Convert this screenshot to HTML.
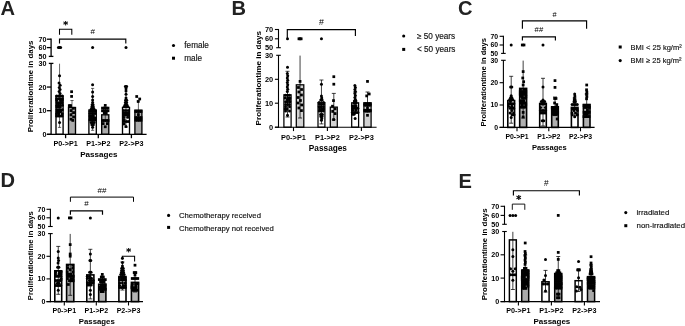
<!DOCTYPE html>
<html><head><meta charset="utf-8"><title>Figure</title>
<style>html,body{margin:0;padding:0;background:#fff}svg{display:block;font-family:"Liberation Sans", Arial, sans-serif}</style>
</head><body>
<svg width="685" height="326" viewBox="0 0 685 326">
<rect width="685" height="326" fill="#fff"/>
<text x="0.4" y="14.6" font-size="20.1" font-weight="bold" fill="#222">A</text>
<rect x="56.00" y="96.00" width="7.10" height="38.30" fill="#fff" stroke="#000" stroke-width="1.35"/>
<rect x="68.50" y="107.50" width="7.00" height="26.80" fill="#ababab" stroke="#000" stroke-width="1.35"/>
<rect x="88.90" y="110.00" width="7.40" height="24.30" fill="#fff" stroke="#000" stroke-width="1.35"/>
<rect x="101.70" y="114.80" width="7.10" height="19.50" fill="#ababab" stroke="#000" stroke-width="1.35"/>
<rect x="122.50" y="107.50" width="7.00" height="26.80" fill="#fff" stroke="#000" stroke-width="1.35"/>
<rect x="134.90" y="110.10" width="7.00" height="24.20" fill="#ababab" stroke="#000" stroke-width="1.35"/>
<line x1="59.55" y1="63.70" x2="59.55" y2="127.40" stroke="#000" stroke-width="0.6"/>
<line x1="57.95" y1="127.40" x2="61.15" y2="127.40" stroke="#000" stroke-width="0.6"/>
<line x1="72.00" y1="100.50" x2="72.00" y2="113.50" stroke="#000" stroke-width="0.6"/>
<line x1="70.40" y1="100.50" x2="73.60" y2="100.50" stroke="#000" stroke-width="0.6"/>
<line x1="70.40" y1="113.50" x2="73.60" y2="113.50" stroke="#000" stroke-width="0.6"/>
<line x1="92.60" y1="88.40" x2="92.60" y2="130.30" stroke="#000" stroke-width="0.6"/>
<line x1="91.00" y1="88.40" x2="94.20" y2="88.40" stroke="#000" stroke-width="0.6"/>
<line x1="91.00" y1="130.30" x2="94.20" y2="130.30" stroke="#000" stroke-width="0.6"/>
<line x1="105.25" y1="108.00" x2="105.25" y2="120.50" stroke="#000" stroke-width="0.6"/>
<line x1="103.65" y1="108.00" x2="106.85" y2="108.00" stroke="#000" stroke-width="0.6"/>
<line x1="103.65" y1="120.50" x2="106.85" y2="120.50" stroke="#000" stroke-width="0.6"/>
<line x1="126.00" y1="86.00" x2="126.00" y2="127.40" stroke="#000" stroke-width="0.6"/>
<line x1="124.40" y1="86.00" x2="127.60" y2="86.00" stroke="#000" stroke-width="0.6"/>
<line x1="124.40" y1="127.40" x2="127.60" y2="127.40" stroke="#000" stroke-width="0.6"/>
<line x1="138.40" y1="101.00" x2="138.40" y2="121.00" stroke="#000" stroke-width="0.6"/>
<line x1="136.80" y1="101.00" x2="140.00" y2="101.00" stroke="#000" stroke-width="0.6"/>
<line x1="136.80" y1="121.00" x2="140.00" y2="121.00" stroke="#000" stroke-width="0.6"/>
<g fill="#000">
<circle cx="58.45" cy="47.60" r="1.5"/>
<circle cx="59.55" cy="47.60" r="1.5"/>
<circle cx="60.65" cy="47.60" r="1.5"/>
<circle cx="59.55" cy="75.70" r="1.5"/>
<circle cx="59.05" cy="82.90" r="1.5"/>
<circle cx="60.15" cy="85.20" r="1.5"/>
<circle cx="59.25" cy="87.40" r="1.5"/>
<circle cx="60.05" cy="89.60" r="1.5"/>
<circle cx="59.15" cy="91.60" r="1.5"/>
<circle cx="60.05" cy="93.60" r="1.5"/>
<circle cx="56.63" cy="96.02" r="1.5"/>
<circle cx="58.42" cy="96.02" r="1.5"/>
<circle cx="60.40" cy="96.02" r="1.5"/>
<circle cx="62.30" cy="96.02" r="1.5"/>
<circle cx="56.58" cy="98.77" r="1.5"/>
<circle cx="58.60" cy="98.77" r="1.5"/>
<circle cx="60.28" cy="98.77" r="1.5"/>
<circle cx="62.36" cy="98.77" r="1.5"/>
<circle cx="56.75" cy="100.47" r="1.5"/>
<circle cx="60.65" cy="100.47" r="1.5"/>
<circle cx="62.12" cy="100.47" r="1.5"/>
<circle cx="56.96" cy="102.64" r="1.5"/>
<circle cx="58.67" cy="102.64" r="1.5"/>
<circle cx="60.40" cy="102.64" r="1.5"/>
<circle cx="62.08" cy="102.64" r="1.5"/>
<circle cx="56.89" cy="105.22" r="1.5"/>
<circle cx="58.54" cy="105.22" r="1.5"/>
<circle cx="60.44" cy="105.22" r="1.5"/>
<circle cx="62.45" cy="105.22" r="1.5"/>
<circle cx="56.84" cy="107.07" r="1.5"/>
<circle cx="58.82" cy="107.07" r="1.5"/>
<circle cx="60.36" cy="107.07" r="1.5"/>
<circle cx="56.93" cy="109.73" r="1.5"/>
<circle cx="58.63" cy="109.73" r="1.5"/>
<circle cx="60.55" cy="109.73" r="1.5"/>
<circle cx="62.34" cy="109.73" r="1.5"/>
<circle cx="56.90" cy="111.68" r="1.5"/>
<circle cx="58.67" cy="111.68" r="1.5"/>
<circle cx="60.64" cy="111.68" r="1.5"/>
<circle cx="56.58" cy="113.83" r="1.5"/>
<circle cx="58.71" cy="113.83" r="1.5"/>
<circle cx="62.19" cy="113.83" r="1.5"/>
<circle cx="56.56" cy="115.95" r="1.5"/>
<circle cx="58.47" cy="115.95" r="1.5"/>
<circle cx="60.25" cy="115.95" r="1.5"/>
<circle cx="62.11" cy="115.95" r="1.5"/>
<circle cx="59.55" cy="122.50" r="1.5"/>
<rect x="70.22" y="90.33" width="2.75" height="2.75"/>
<rect x="70.22" y="95.03" width="2.75" height="2.75"/>
<rect x="67.92" y="104.22" width="2.75" height="2.75"/>
<rect x="69.22" y="104.22" width="2.75" height="2.75"/>
<rect x="72.03" y="106.92" width="2.75" height="2.75"/>
<rect x="69.62" y="109.22" width="2.75" height="2.75"/>
<rect x="72.22" y="111.22" width="2.75" height="2.75"/>
<rect x="69.62" y="113.53" width="2.75" height="2.75"/>
<rect x="72.22" y="115.62" width="2.75" height="2.75"/>
<rect x="69.62" y="117.83" width="2.75" height="2.75"/>
<rect x="71.42" y="119.03" width="2.75" height="2.75"/>
<circle cx="92.60" cy="47.60" r="1.5"/>
<circle cx="92.60" cy="84.80" r="1.5"/>
<circle cx="92.60" cy="92.00" r="1.5"/>
<circle cx="92.60" cy="96.60" r="1.5"/>
<circle cx="92.60" cy="100.00" r="1.5"/>
<circle cx="92.60" cy="102.40" r="1.5"/>
<circle cx="92.10" cy="104.70" r="1.5"/>
<circle cx="93.10" cy="104.70" r="1.5"/>
<circle cx="91.80" cy="107.00" r="1.5"/>
<circle cx="93.40" cy="107.00" r="1.5"/>
<circle cx="91.10" cy="109.20" r="1.5"/>
<circle cx="92.60" cy="109.20" r="1.5"/>
<circle cx="94.10" cy="109.20" r="1.5"/>
<circle cx="90.29" cy="111.27" r="1.5"/>
<circle cx="91.74" cy="111.27" r="1.5"/>
<circle cx="93.63" cy="111.27" r="1.5"/>
<circle cx="95.28" cy="111.27" r="1.5"/>
<circle cx="90.03" cy="113.59" r="1.5"/>
<circle cx="92.00" cy="113.59" r="1.5"/>
<circle cx="93.27" cy="113.59" r="1.5"/>
<circle cx="94.97" cy="113.59" r="1.5"/>
<circle cx="89.98" cy="115.91" r="1.5"/>
<circle cx="91.73" cy="115.91" r="1.5"/>
<circle cx="93.47" cy="115.91" r="1.5"/>
<circle cx="90.16" cy="117.94" r="1.5"/>
<circle cx="91.54" cy="117.94" r="1.5"/>
<circle cx="93.57" cy="117.94" r="1.5"/>
<circle cx="95.25" cy="117.94" r="1.5"/>
<circle cx="89.90" cy="119.93" r="1.5"/>
<circle cx="91.55" cy="119.93" r="1.5"/>
<circle cx="93.29" cy="119.93" r="1.5"/>
<circle cx="95.02" cy="119.93" r="1.5"/>
<circle cx="91.10" cy="122.50" r="1.5"/>
<circle cx="92.60" cy="122.50" r="1.5"/>
<circle cx="94.10" cy="122.50" r="1.5"/>
<circle cx="91.85" cy="124.70" r="1.5"/>
<circle cx="93.35" cy="124.70" r="1.5"/>
<circle cx="92.60" cy="127.20" r="1.5"/>
<rect x="103.88" y="104.03" width="2.75" height="2.75"/>
<rect x="101.10" y="106.72" width="2.75" height="2.75"/>
<rect x="102.95" y="106.72" width="2.75" height="2.75"/>
<rect x="104.80" y="106.72" width="2.75" height="2.75"/>
<rect x="106.65" y="106.72" width="2.75" height="2.75"/>
<rect x="101.10" y="109.42" width="2.75" height="2.75"/>
<rect x="102.95" y="109.42" width="2.75" height="2.75"/>
<rect x="104.80" y="109.42" width="2.75" height="2.75"/>
<rect x="106.65" y="109.42" width="2.75" height="2.75"/>
<rect x="102.88" y="111.83" width="2.75" height="2.75"/>
<rect x="104.88" y="111.83" width="2.75" height="2.75"/>
<rect x="101.10" y="119.12" width="2.75" height="2.75"/>
<rect x="102.95" y="119.12" width="2.75" height="2.75"/>
<rect x="104.80" y="119.12" width="2.75" height="2.75"/>
<rect x="106.65" y="119.12" width="2.75" height="2.75"/>
<rect x="101.78" y="122.22" width="2.75" height="2.75"/>
<rect x="105.97" y="122.22" width="2.75" height="2.75"/>
<rect x="103.88" y="125.42" width="2.75" height="2.75"/>
<circle cx="126.00" cy="47.60" r="1.5"/>
<circle cx="125.40" cy="86.50" r="1.5"/>
<circle cx="126.60" cy="86.50" r="1.5"/>
<circle cx="126.00" cy="88.80" r="1.5"/>
<circle cx="126.00" cy="91.00" r="1.5"/>
<circle cx="126.00" cy="94.20" r="1.5"/>
<circle cx="126.00" cy="98.00" r="1.5"/>
<circle cx="125.50" cy="100.30" r="1.5"/>
<circle cx="126.70" cy="100.30" r="1.5"/>
<circle cx="125.40" cy="102.50" r="1.5"/>
<circle cx="126.60" cy="102.50" r="1.5"/>
<circle cx="125.10" cy="104.70" r="1.5"/>
<circle cx="126.90" cy="104.70" r="1.5"/>
<circle cx="124.20" cy="106.60" r="1.5"/>
<circle cx="126.00" cy="106.60" r="1.5"/>
<circle cx="127.80" cy="106.60" r="1.5"/>
<circle cx="123.83" cy="110.57" r="1.5"/>
<circle cx="125.93" cy="110.57" r="1.5"/>
<circle cx="128.19" cy="110.57" r="1.5"/>
<circle cx="123.88" cy="113.00" r="1.5"/>
<circle cx="125.93" cy="113.00" r="1.5"/>
<circle cx="128.17" cy="113.00" r="1.5"/>
<circle cx="123.99" cy="115.10" r="1.5"/>
<circle cx="125.80" cy="115.10" r="1.5"/>
<circle cx="127.88" cy="115.10" r="1.5"/>
<circle cx="123.76" cy="117.13" r="1.5"/>
<circle cx="127.82" cy="117.13" r="1.5"/>
<circle cx="124.01" cy="119.42" r="1.5"/>
<circle cx="123.93" cy="121.40" r="1.5"/>
<circle cx="126.14" cy="121.40" r="1.5"/>
<circle cx="128.14" cy="121.40" r="1.5"/>
<circle cx="124.16" cy="123.88" r="1.5"/>
<circle cx="126.00" cy="126.50" r="1.5"/>
<rect x="135.33" y="95.12" width="2.75" height="2.75"/>
<rect x="138.33" y="97.62" width="2.75" height="2.75"/>
<rect x="136.83" y="100.12" width="2.75" height="2.75"/>
<rect x="134.33" y="110.12" width="2.75" height="2.75"/>
<rect x="136.12" y="110.12" width="2.75" height="2.75"/>
<rect x="137.93" y="110.12" width="2.75" height="2.75"/>
<rect x="139.72" y="110.12" width="2.75" height="2.75"/>
<rect x="137.03" y="113.22" width="2.75" height="2.75"/>
<rect x="134.33" y="116.22" width="2.75" height="2.75"/>
<rect x="136.12" y="116.22" width="2.75" height="2.75"/>
<rect x="137.93" y="116.22" width="2.75" height="2.75"/>
<rect x="139.72" y="116.22" width="2.75" height="2.75"/>
<rect x="134.33" y="118.83" width="2.75" height="2.75"/>
<rect x="136.12" y="118.83" width="2.75" height="2.75"/>
<rect x="137.93" y="118.83" width="2.75" height="2.75"/>
<rect x="139.72" y="118.83" width="2.75" height="2.75"/>
</g>
<line x1="51.10" y1="38.55" x2="51.10" y2="56.40" stroke="#000" stroke-width="1.3"/>
<line x1="51.10" y1="63.40" x2="51.10" y2="134.95" stroke="#000" stroke-width="1.3"/>
<line x1="46.90" y1="39.20" x2="51.10" y2="39.20" stroke="#000" stroke-width="1.3"/>
<line x1="46.90" y1="47.60" x2="51.10" y2="47.60" stroke="#000" stroke-width="1.3"/>
<line x1="46.90" y1="87.05" x2="51.10" y2="87.05" stroke="#000" stroke-width="1.3"/>
<line x1="46.90" y1="110.70" x2="51.10" y2="110.70" stroke="#000" stroke-width="1.3"/>
<line x1="46.90" y1="134.30" x2="51.10" y2="134.30" stroke="#000" stroke-width="1.3"/>
<line x1="48.80" y1="56.40" x2="53.40" y2="56.40" stroke="#000" stroke-width="1.3"/>
<line x1="48.80" y1="63.40" x2="53.40" y2="63.40" stroke="#000" stroke-width="1.3"/>
<line x1="46.90" y1="134.30" x2="146.60" y2="134.30" stroke="#000" stroke-width="1.3"/>
<text x="46.50" y="41.77" font-size="7.19" font-weight="bold" text-anchor="end" fill="#000">70</text>
<text x="46.50" y="50.17" font-size="7.19" font-weight="bold" text-anchor="end" fill="#000">60</text>
<text x="46.50" y="58.97" font-size="7.19" font-weight="bold" text-anchor="end" fill="#000">50</text>
<text x="46.50" y="65.97" font-size="7.19" font-weight="bold" text-anchor="end" fill="#000">30</text>
<text x="46.50" y="89.62" font-size="7.19" font-weight="bold" text-anchor="end" fill="#000">20</text>
<text x="46.50" y="113.27" font-size="7.19" font-weight="bold" text-anchor="end" fill="#000">10</text>
<text x="46.50" y="136.87" font-size="7.19" font-weight="bold" text-anchor="end" fill="#000">0</text>
<line x1="65.60" y1="134.30" x2="65.60" y2="138.20" stroke="#000" stroke-width="1.3"/>
<text x="65.60" y="146.30" font-size="7.19" font-weight="bold" text-anchor="middle" fill="#000">P0-&gt;P1</text>
<line x1="98.30" y1="134.30" x2="98.30" y2="138.20" stroke="#000" stroke-width="1.3"/>
<text x="98.30" y="146.30" font-size="7.19" font-weight="bold" text-anchor="middle" fill="#000">P1-&gt;P2</text>
<line x1="131.40" y1="134.30" x2="131.40" y2="138.20" stroke="#000" stroke-width="1.3"/>
<text x="131.40" y="146.30" font-size="7.19" font-weight="bold" text-anchor="middle" fill="#000">P2-&gt;P3</text>
<text x="98.80" y="156.90" font-size="8.05" font-weight="bold" text-anchor="middle" fill="#000">Passages</text>
<text x="33.50" y="86.45" font-size="7.87" font-weight="bold" text-anchor="middle" fill="#000" transform="rotate(-90 33.50 86.45)">Proliferationtime in days</text>
<path d="M59.50 34.80V29.30H71.80V34.80" fill="none" stroke="#000" stroke-width="1.05"/>
<text x="65.65" y="28.00" font-size="9.2" font-weight="bold" font-family="DejaVu Sans, sans-serif" text-anchor="middle" fill="#000" stroke="#000" stroke-width="0.25">*</text>
<path d="M59.50 43.50V39.10H125.80V43.50" fill="none" stroke="#000" stroke-width="1.15"/>
<text x="92.65" y="34.20" font-size="8" font-weight="normal" text-anchor="middle" fill="#000">#</text>
<g fill="#000">
<circle cx="173.50" cy="45.50" r="1.55"/>
</g>
<text x="184.30" y="48.10" font-size="8.2" fill="#111" stroke="#111" stroke-width="0.15">female</text>
<g fill="#000">
<rect x="172.00" y="56.70" width="3.0" height="3.0"/>
</g>
<text x="184.30" y="60.90" font-size="8.2" fill="#111" stroke="#111" stroke-width="0.15">male</text>
<text x="231.4" y="14.5" font-size="20.1" font-weight="bold" fill="#222">B</text>
<rect x="283.90" y="94.80" width="7.20" height="32.40" fill="#fff" stroke="#000" stroke-width="1.25"/>
<rect x="296.30" y="84.80" width="7.50" height="42.40" fill="#d2d2d2" stroke="#000" stroke-width="1.25"/>
<rect x="318.00" y="102.70" width="6.90" height="24.50" fill="#fff" stroke="#000" stroke-width="1.25"/>
<rect x="330.30" y="107.10" width="7.00" height="20.10" fill="#d2d2d2" stroke="#000" stroke-width="1.25"/>
<rect x="351.70" y="102.80" width="6.90" height="24.40" fill="#fff" stroke="#000" stroke-width="1.25"/>
<rect x="363.90" y="102.80" width="7.20" height="24.40" fill="#d2d2d2" stroke="#000" stroke-width="1.25"/>
<line x1="287.50" y1="71.30" x2="287.50" y2="117.00" stroke="#000" stroke-width="0.75"/>
<line x1="285.50" y1="71.30" x2="289.50" y2="71.30" stroke="#000" stroke-width="0.75"/>
<line x1="285.50" y1="117.00" x2="289.50" y2="117.00" stroke="#000" stroke-width="0.75"/>
<line x1="300.05" y1="55.60" x2="300.05" y2="118.00" stroke="#000" stroke-width="0.75"/>
<line x1="298.05" y1="118.00" x2="302.05" y2="118.00" stroke="#000" stroke-width="0.75"/>
<line x1="321.45" y1="80.00" x2="321.45" y2="123.90" stroke="#000" stroke-width="0.75"/>
<line x1="319.45" y1="80.00" x2="323.45" y2="80.00" stroke="#000" stroke-width="0.75"/>
<line x1="319.45" y1="123.90" x2="323.45" y2="123.90" stroke="#000" stroke-width="0.75"/>
<line x1="333.80" y1="93.40" x2="333.80" y2="119.80" stroke="#000" stroke-width="0.75"/>
<line x1="331.80" y1="93.40" x2="335.80" y2="93.40" stroke="#000" stroke-width="0.75"/>
<line x1="331.80" y1="119.80" x2="335.80" y2="119.80" stroke="#000" stroke-width="0.75"/>
<line x1="355.15" y1="92.00" x2="355.15" y2="113.00" stroke="#000" stroke-width="0.75"/>
<line x1="353.15" y1="92.00" x2="357.15" y2="92.00" stroke="#000" stroke-width="0.75"/>
<line x1="353.15" y1="113.00" x2="357.15" y2="113.00" stroke="#000" stroke-width="0.75"/>
<line x1="367.50" y1="92.00" x2="367.50" y2="112.00" stroke="#000" stroke-width="0.75"/>
<line x1="365.50" y1="92.00" x2="369.50" y2="92.00" stroke="#000" stroke-width="0.75"/>
<line x1="365.50" y1="112.00" x2="369.50" y2="112.00" stroke="#000" stroke-width="0.75"/>
<g fill="#000">
<circle cx="287.50" cy="38.80" r="1.5"/>
<circle cx="287.50" cy="67.30" r="1.5"/>
<circle cx="287.30" cy="73.50" r="1.5"/>
<circle cx="287.70" cy="75.75" r="1.5"/>
<circle cx="287.30" cy="78.00" r="1.5"/>
<circle cx="287.70" cy="80.25" r="1.5"/>
<circle cx="287.30" cy="82.50" r="1.5"/>
<circle cx="287.70" cy="84.75" r="1.5"/>
<circle cx="287.30" cy="87.00" r="1.5"/>
<circle cx="287.70" cy="89.25" r="1.5"/>
<circle cx="287.30" cy="91.50" r="1.5"/>
<circle cx="285.52" cy="95.22" r="1.5"/>
<circle cx="287.51" cy="95.22" r="1.5"/>
<circle cx="289.36" cy="95.22" r="1.5"/>
<circle cx="285.28" cy="97.99" r="1.5"/>
<circle cx="287.73" cy="97.99" r="1.5"/>
<circle cx="289.82" cy="97.99" r="1.5"/>
<circle cx="287.36" cy="99.72" r="1.5"/>
<circle cx="289.45" cy="99.72" r="1.5"/>
<circle cx="285.60" cy="101.85" r="1.5"/>
<circle cx="287.49" cy="101.85" r="1.5"/>
<circle cx="289.75" cy="101.85" r="1.5"/>
<circle cx="285.60" cy="104.47" r="1.5"/>
<circle cx="287.63" cy="104.47" r="1.5"/>
<circle cx="289.44" cy="104.47" r="1.5"/>
<circle cx="285.55" cy="106.77" r="1.5"/>
<circle cx="289.55" cy="106.77" r="1.5"/>
<circle cx="285.24" cy="108.88" r="1.5"/>
<circle cx="287.33" cy="108.88" r="1.5"/>
<circle cx="285.56" cy="110.93" r="1.5"/>
<circle cx="289.53" cy="110.93" r="1.5"/>
<circle cx="287.50" cy="115.30" r="1.5"/>
<rect x="297.57" y="37.42" width="2.75" height="2.75"/>
<rect x="298.68" y="37.42" width="2.75" height="2.75"/>
<rect x="299.78" y="37.42" width="2.75" height="2.75"/>
<rect x="298.68" y="80.03" width="2.75" height="2.75"/>
<rect x="297.07" y="86.12" width="2.75" height="2.75"/>
<rect x="300.18" y="88.12" width="2.75" height="2.75"/>
<rect x="297.48" y="90.62" width="2.75" height="2.75"/>
<rect x="300.07" y="93.62" width="2.75" height="2.75"/>
<rect x="296.88" y="96.12" width="2.75" height="2.75"/>
<rect x="299.07" y="99.12" width="2.75" height="2.75"/>
<rect x="296.68" y="101.62" width="2.75" height="2.75"/>
<rect x="300.28" y="103.62" width="2.75" height="2.75"/>
<rect x="297.48" y="106.62" width="2.75" height="2.75"/>
<rect x="300.07" y="109.22" width="2.75" height="2.75"/>
<circle cx="321.45" cy="38.80" r="1.5"/>
<circle cx="321.45" cy="84.20" r="1.5"/>
<circle cx="321.45" cy="96.00" r="1.5"/>
<circle cx="321.75" cy="98.00" r="1.5"/>
<circle cx="320.75" cy="100.00" r="1.5"/>
<circle cx="322.15" cy="100.00" r="1.5"/>
<circle cx="319.11" cy="102.56" r="1.5"/>
<circle cx="323.56" cy="102.56" r="1.5"/>
<circle cx="319.54" cy="104.34" r="1.5"/>
<circle cx="321.31" cy="104.34" r="1.5"/>
<circle cx="323.45" cy="104.34" r="1.5"/>
<circle cx="319.23" cy="106.67" r="1.5"/>
<circle cx="321.27" cy="106.67" r="1.5"/>
<circle cx="323.48" cy="106.67" r="1.5"/>
<circle cx="319.55" cy="108.91" r="1.5"/>
<circle cx="321.66" cy="108.91" r="1.5"/>
<circle cx="323.57" cy="108.91" r="1.5"/>
<circle cx="319.32" cy="111.08" r="1.5"/>
<circle cx="321.20" cy="111.08" r="1.5"/>
<circle cx="323.39" cy="111.08" r="1.5"/>
<circle cx="320.55" cy="114.60" r="1.5"/>
<circle cx="322.35" cy="114.60" r="1.5"/>
<circle cx="320.85" cy="116.60" r="1.5"/>
<circle cx="322.05" cy="116.60" r="1.5"/>
<circle cx="321.75" cy="118.60" r="1.5"/>
<circle cx="321.45" cy="120.30" r="1.5"/>
<rect x="332.43" y="75.33" width="2.75" height="2.75"/>
<rect x="332.43" y="82.83" width="2.75" height="2.75"/>
<rect x="332.12" y="99.22" width="2.75" height="2.75"/>
<rect x="331.12" y="104.83" width="2.75" height="2.75"/>
<rect x="333.73" y="107.42" width="2.75" height="2.75"/>
<rect x="331.32" y="110.03" width="2.75" height="2.75"/>
<rect x="333.73" y="112.22" width="2.75" height="2.75"/>
<rect x="332.23" y="118.22" width="2.75" height="2.75"/>
<circle cx="354.90" cy="85.50" r="1.5"/>
<circle cx="355.40" cy="87.50" r="1.5"/>
<circle cx="354.90" cy="89.50" r="1.5"/>
<circle cx="355.40" cy="91.50" r="1.5"/>
<circle cx="354.90" cy="93.50" r="1.5"/>
<circle cx="355.40" cy="95.50" r="1.5"/>
<circle cx="354.90" cy="97.50" r="1.5"/>
<circle cx="355.40" cy="99.50" r="1.5"/>
<circle cx="354.35" cy="101.00" r="1.5"/>
<circle cx="355.95" cy="101.00" r="1.5"/>
<circle cx="354.18" cy="103.26" r="1.5"/>
<circle cx="356.06" cy="103.26" r="1.5"/>
<circle cx="352.37" cy="105.95" r="1.5"/>
<circle cx="354.40" cy="105.95" r="1.5"/>
<circle cx="356.06" cy="105.95" r="1.5"/>
<circle cx="352.56" cy="108.16" r="1.5"/>
<circle cx="354.27" cy="108.16" r="1.5"/>
<circle cx="356.01" cy="108.16" r="1.5"/>
<circle cx="357.79" cy="108.16" r="1.5"/>
<circle cx="352.69" cy="110.30" r="1.5"/>
<circle cx="356.06" cy="110.30" r="1.5"/>
<circle cx="352.31" cy="112.54" r="1.5"/>
<circle cx="354.05" cy="112.54" r="1.5"/>
<circle cx="355.82" cy="112.54" r="1.5"/>
<circle cx="357.94" cy="112.54" r="1.5"/>
<circle cx="352.61" cy="114.33" r="1.5"/>
<circle cx="354.09" cy="114.33" r="1.5"/>
<circle cx="355.15" cy="118.50" r="1.5"/>
<rect x="366.12" y="80.03" width="2.75" height="2.75"/>
<rect x="367.82" y="92.62" width="2.75" height="2.75"/>
<rect x="365.32" y="94.53" width="2.75" height="2.75"/>
<rect x="363.43" y="102.42" width="2.75" height="2.75"/>
<rect x="365.23" y="102.42" width="2.75" height="2.75"/>
<rect x="367.02" y="102.42" width="2.75" height="2.75"/>
<rect x="368.82" y="102.42" width="2.75" height="2.75"/>
<rect x="363.43" y="103.83" width="2.75" height="2.75"/>
<rect x="365.23" y="103.83" width="2.75" height="2.75"/>
<rect x="367.02" y="103.83" width="2.75" height="2.75"/>
<rect x="368.82" y="103.83" width="2.75" height="2.75"/>
<rect x="366.12" y="106.33" width="2.75" height="2.75"/>
<rect x="363.43" y="108.92" width="2.75" height="2.75"/>
<rect x="365.23" y="108.92" width="2.75" height="2.75"/>
<rect x="367.02" y="108.92" width="2.75" height="2.75"/>
<rect x="368.82" y="108.92" width="2.75" height="2.75"/>
<rect x="363.43" y="109.62" width="2.75" height="2.75"/>
<rect x="365.23" y="109.62" width="2.75" height="2.75"/>
<rect x="367.02" y="109.62" width="2.75" height="2.75"/>
<rect x="368.82" y="109.62" width="2.75" height="2.75"/>
<rect x="366.12" y="113.92" width="2.75" height="2.75"/>
</g>
<line x1="278.50" y1="28.95" x2="278.50" y2="47.70" stroke="#000" stroke-width="1.1"/>
<line x1="278.50" y1="55.30" x2="278.50" y2="127.75" stroke="#000" stroke-width="1.1"/>
<line x1="274.90" y1="29.50" x2="278.50" y2="29.50" stroke="#000" stroke-width="1.1"/>
<line x1="274.90" y1="38.80" x2="278.50" y2="38.80" stroke="#000" stroke-width="1.1"/>
<line x1="274.90" y1="79.30" x2="278.50" y2="79.30" stroke="#000" stroke-width="1.1"/>
<line x1="274.90" y1="103.20" x2="278.50" y2="103.20" stroke="#000" stroke-width="1.1"/>
<line x1="274.90" y1="127.20" x2="278.50" y2="127.20" stroke="#000" stroke-width="1.1"/>
<line x1="276.20" y1="47.70" x2="280.80" y2="47.70" stroke="#000" stroke-width="1.1"/>
<line x1="276.20" y1="55.30" x2="280.80" y2="55.30" stroke="#000" stroke-width="1.1"/>
<line x1="274.90" y1="127.20" x2="376.60" y2="127.20" stroke="#000" stroke-width="1.1"/>
<text x="273.20" y="32.15" font-size="7.4" font-weight="bold" text-anchor="end" fill="#000">70</text>
<text x="273.20" y="41.45" font-size="7.4" font-weight="bold" text-anchor="end" fill="#000">60</text>
<text x="273.20" y="50.35" font-size="7.4" font-weight="bold" text-anchor="end" fill="#000">50</text>
<text x="273.20" y="57.95" font-size="7.4" font-weight="bold" text-anchor="end" fill="#000">30</text>
<text x="273.20" y="81.95" font-size="7.4" font-weight="bold" text-anchor="end" fill="#000">20</text>
<text x="273.20" y="105.85" font-size="7.4" font-weight="bold" text-anchor="end" fill="#000">10</text>
<text x="273.20" y="129.85" font-size="7.4" font-weight="bold" text-anchor="end" fill="#000">0</text>
<line x1="293.50" y1="127.20" x2="293.50" y2="131.10" stroke="#000" stroke-width="1.1"/>
<text x="293.50" y="139.80" font-size="7.4" font-weight="bold" text-anchor="middle" fill="#000">P0-&gt;P1</text>
<line x1="327.40" y1="127.20" x2="327.40" y2="131.10" stroke="#000" stroke-width="1.1"/>
<text x="327.40" y="139.80" font-size="7.4" font-weight="bold" text-anchor="middle" fill="#000">P1-&gt;P2</text>
<line x1="361.40" y1="127.20" x2="361.40" y2="131.10" stroke="#000" stroke-width="1.1"/>
<text x="361.40" y="139.80" font-size="7.4" font-weight="bold" text-anchor="middle" fill="#000">P2-&gt;P3</text>
<text x="327.90" y="150.90" font-size="8.25" font-weight="bold" text-anchor="middle" fill="#000">Passages</text>
<text x="261.40" y="78.15" font-size="8.1" font-weight="bold" text-anchor="middle" fill="#000" transform="rotate(-90 261.40 78.15)">Proliferationtime in days</text>
<path d="M287.30 38.00V29.60H355.40V36.00" fill="none" stroke="#000" stroke-width="1.15"/>
<text x="321.35" y="25.40" font-size="8.8" font-weight="normal" text-anchor="middle" fill="#000">#</text>
<g fill="#000">
<circle cx="403.70" cy="36.00" r="1.55"/>
</g>
<text x="417.00" y="38.80" font-size="8.2" fill="#111" stroke="#111" stroke-width="0.15">≥ 50 years</text>
<g fill="#000">
<rect x="402.20" y="47.90" width="3.0" height="3.0"/>
</g>
<text x="417.00" y="52.10" font-size="8.2" fill="#111" stroke="#111" stroke-width="0.15">&lt; 50 years</text>
<text x="457.9" y="14.65" font-size="20.1" font-weight="bold" fill="#222">C</text>
<rect x="507.80" y="100.60" width="6.80" height="26.80" fill="#fff" stroke="#000" stroke-width="1.6"/>
<rect x="519.70" y="88.40" width="6.90" height="39.00" fill="#b0b0b0" stroke="#000" stroke-width="1.6"/>
<rect x="539.70" y="103.50" width="6.60" height="23.90" fill="#fff" stroke="#000" stroke-width="1.6"/>
<rect x="551.70" y="106.80" width="6.60" height="20.60" fill="#b0b0b0" stroke="#000" stroke-width="1.6"/>
<rect x="571.40" y="107.40" width="6.60" height="20.00" fill="#fff" stroke="#000" stroke-width="1.6"/>
<rect x="583.40" y="104.50" width="6.60" height="22.90" fill="#b0b0b0" stroke="#000" stroke-width="1.6"/>
<line x1="511.20" y1="76.30" x2="511.20" y2="123.20" stroke="#000" stroke-width="0.75"/>
<line x1="509.20" y1="76.30" x2="513.20" y2="76.30" stroke="#000" stroke-width="0.75"/>
<line x1="509.20" y1="123.20" x2="513.20" y2="123.20" stroke="#000" stroke-width="0.75"/>
<line x1="523.15" y1="60.60" x2="523.15" y2="118.00" stroke="#000" stroke-width="0.75"/>
<line x1="521.15" y1="118.00" x2="525.15" y2="118.00" stroke="#000" stroke-width="0.75"/>
<line x1="543.00" y1="78.30" x2="543.00" y2="126.00" stroke="#000" stroke-width="0.75"/>
<line x1="541.00" y1="78.30" x2="545.00" y2="78.30" stroke="#000" stroke-width="0.75"/>
<line x1="541.00" y1="126.00" x2="545.00" y2="126.00" stroke="#000" stroke-width="0.75"/>
<line x1="555.00" y1="97.00" x2="555.00" y2="115.60" stroke="#000" stroke-width="0.75"/>
<line x1="553.00" y1="97.00" x2="557.00" y2="97.00" stroke="#000" stroke-width="0.75"/>
<line x1="553.00" y1="115.60" x2="557.00" y2="115.60" stroke="#000" stroke-width="0.75"/>
<line x1="574.70" y1="98.00" x2="574.70" y2="115.80" stroke="#000" stroke-width="0.75"/>
<line x1="572.70" y1="98.00" x2="576.70" y2="98.00" stroke="#000" stroke-width="0.75"/>
<line x1="572.70" y1="115.80" x2="576.70" y2="115.80" stroke="#000" stroke-width="0.75"/>
<line x1="586.70" y1="94.00" x2="586.70" y2="114.00" stroke="#000" stroke-width="0.75"/>
<line x1="584.70" y1="94.00" x2="588.70" y2="94.00" stroke="#000" stroke-width="0.75"/>
<line x1="584.70" y1="114.00" x2="588.70" y2="114.00" stroke="#000" stroke-width="0.75"/>
<g fill="#000">
<circle cx="511.20" cy="45.00" r="1.5"/>
<circle cx="510.60" cy="87.00" r="1.5"/>
<circle cx="511.80" cy="87.00" r="1.5"/>
<circle cx="511.20" cy="95.80" r="1.5"/>
<circle cx="510.55" cy="97.70" r="1.5"/>
<circle cx="511.85" cy="97.70" r="1.5"/>
<circle cx="509.70" cy="99.50" r="1.5"/>
<circle cx="511.20" cy="99.50" r="1.5"/>
<circle cx="512.70" cy="99.50" r="1.5"/>
<circle cx="510.33" cy="101.50" r="1.5"/>
<circle cx="508.61" cy="103.86" r="1.5"/>
<circle cx="510.18" cy="103.86" r="1.5"/>
<circle cx="512.18" cy="103.86" r="1.5"/>
<circle cx="513.83" cy="103.86" r="1.5"/>
<circle cx="508.52" cy="106.27" r="1.5"/>
<circle cx="511.85" cy="106.27" r="1.5"/>
<circle cx="510.22" cy="108.25" r="1.5"/>
<circle cx="512.21" cy="108.25" r="1.5"/>
<circle cx="513.61" cy="108.25" r="1.5"/>
<circle cx="511.89" cy="110.54" r="1.5"/>
<circle cx="510.11" cy="112.96" r="1.5"/>
<circle cx="513.59" cy="112.96" r="1.5"/>
<circle cx="512.24" cy="114.87" r="1.5"/>
<circle cx="513.98" cy="114.87" r="1.5"/>
<circle cx="511.20" cy="117.40" r="1.5"/>
<rect x="520.93" y="43.62" width="2.75" height="2.75"/>
<rect x="522.63" y="43.62" width="2.75" height="2.75"/>
<rect x="521.78" y="70.22" width="2.75" height="2.75"/>
<rect x="521.38" y="76.62" width="2.75" height="2.75"/>
<rect x="522.28" y="80.33" width="2.75" height="2.75"/>
<rect x="521.78" y="83.62" width="2.75" height="2.75"/>
<rect x="519.15" y="87.99" width="2.75" height="2.75"/>
<rect x="522.47" y="87.99" width="2.75" height="2.75"/>
<rect x="524.29" y="87.99" width="2.75" height="2.75"/>
<rect x="518.90" y="90.23" width="2.75" height="2.75"/>
<rect x="520.80" y="90.23" width="2.75" height="2.75"/>
<rect x="522.79" y="90.23" width="2.75" height="2.75"/>
<rect x="524.43" y="90.23" width="2.75" height="2.75"/>
<rect x="518.88" y="92.89" width="2.75" height="2.75"/>
<rect x="520.65" y="92.89" width="2.75" height="2.75"/>
<rect x="522.68" y="92.89" width="2.75" height="2.75"/>
<rect x="524.41" y="92.89" width="2.75" height="2.75"/>
<rect x="519.28" y="94.94" width="2.75" height="2.75"/>
<rect x="520.89" y="94.94" width="2.75" height="2.75"/>
<rect x="524.43" y="94.94" width="2.75" height="2.75"/>
<rect x="521.06" y="96.76" width="2.75" height="2.75"/>
<rect x="522.73" y="96.76" width="2.75" height="2.75"/>
<rect x="524.35" y="96.76" width="2.75" height="2.75"/>
<rect x="518.91" y="99.45" width="2.75" height="2.75"/>
<rect x="520.77" y="99.45" width="2.75" height="2.75"/>
<rect x="522.45" y="99.45" width="2.75" height="2.75"/>
<rect x="519.02" y="101.70" width="2.75" height="2.75"/>
<rect x="520.79" y="101.70" width="2.75" height="2.75"/>
<rect x="522.49" y="101.70" width="2.75" height="2.75"/>
<rect x="524.31" y="101.70" width="2.75" height="2.75"/>
<rect x="520.76" y="103.33" width="2.75" height="2.75"/>
<rect x="524.35" y="103.33" width="2.75" height="2.75"/>
<rect x="519.11" y="105.76" width="2.75" height="2.75"/>
<rect x="520.74" y="105.76" width="2.75" height="2.75"/>
<rect x="522.41" y="105.76" width="2.75" height="2.75"/>
<rect x="524.22" y="105.76" width="2.75" height="2.75"/>
<rect x="521.78" y="111.03" width="2.75" height="2.75"/>
<rect x="521.78" y="115.62" width="2.75" height="2.75"/>
<circle cx="543.00" cy="45.00" r="1.5"/>
<circle cx="543.00" cy="87.00" r="1.5"/>
<circle cx="543.00" cy="100.00" r="1.5"/>
<circle cx="541.40" cy="101.60" r="1.5"/>
<circle cx="543.00" cy="101.60" r="1.5"/>
<circle cx="544.60" cy="101.60" r="1.5"/>
<circle cx="540.45" cy="104.00" r="1.5"/>
<circle cx="542.15" cy="104.00" r="1.5"/>
<circle cx="543.85" cy="104.00" r="1.5"/>
<circle cx="545.55" cy="104.00" r="1.5"/>
<circle cx="540.60" cy="107.60" r="1.5"/>
<circle cx="545.40" cy="107.60" r="1.5"/>
<circle cx="540.45" cy="110.40" r="1.5"/>
<circle cx="542.15" cy="110.40" r="1.5"/>
<circle cx="543.85" cy="110.40" r="1.5"/>
<circle cx="545.55" cy="110.40" r="1.5"/>
<circle cx="540.80" cy="112.90" r="1.5"/>
<circle cx="543.00" cy="112.90" r="1.5"/>
<circle cx="545.20" cy="112.90" r="1.5"/>
<circle cx="542.30" cy="120.70" r="1.5"/>
<circle cx="543.70" cy="120.70" r="1.5"/>
<rect x="553.62" y="79.22" width="2.75" height="2.75"/>
<rect x="553.62" y="86.03" width="2.75" height="2.75"/>
<rect x="553.23" y="97.12" width="2.75" height="2.75"/>
<rect x="554.62" y="97.12" width="2.75" height="2.75"/>
<rect x="553.23" y="101.62" width="2.75" height="2.75"/>
<rect x="555.42" y="103.22" width="2.75" height="2.75"/>
<rect x="550.89" y="106.55" width="2.75" height="2.75"/>
<rect x="552.66" y="106.55" width="2.75" height="2.75"/>
<rect x="554.47" y="106.55" width="2.75" height="2.75"/>
<rect x="556.20" y="106.55" width="2.75" height="2.75"/>
<rect x="551.07" y="108.83" width="2.75" height="2.75"/>
<rect x="553.03" y="108.83" width="2.75" height="2.75"/>
<rect x="554.57" y="108.83" width="2.75" height="2.75"/>
<rect x="555.90" y="108.83" width="2.75" height="2.75"/>
<rect x="551.19" y="111.01" width="2.75" height="2.75"/>
<rect x="552.95" y="111.01" width="2.75" height="2.75"/>
<rect x="554.47" y="111.01" width="2.75" height="2.75"/>
<rect x="556.29" y="111.01" width="2.75" height="2.75"/>
<rect x="551.17" y="112.94" width="2.75" height="2.75"/>
<rect x="552.88" y="112.94" width="2.75" height="2.75"/>
<rect x="554.32" y="112.94" width="2.75" height="2.75"/>
<rect x="555.94" y="112.94" width="2.75" height="2.75"/>
<rect x="555.83" y="117.62" width="2.75" height="2.75"/>
<circle cx="574.70" cy="94.00" r="1.5"/>
<circle cx="574.90" cy="96.00" r="1.5"/>
<circle cx="574.50" cy="98.00" r="1.5"/>
<circle cx="574.25" cy="100.00" r="1.5"/>
<circle cx="575.15" cy="100.00" r="1.5"/>
<circle cx="574.00" cy="101.80" r="1.5"/>
<circle cx="575.40" cy="101.80" r="1.5"/>
<circle cx="572.15" cy="104.60" r="1.5"/>
<circle cx="573.85" cy="104.60" r="1.5"/>
<circle cx="575.55" cy="104.60" r="1.5"/>
<circle cx="577.25" cy="104.60" r="1.5"/>
<circle cx="572.37" cy="108.68" r="1.5"/>
<circle cx="573.93" cy="108.68" r="1.5"/>
<circle cx="575.62" cy="108.68" r="1.5"/>
<circle cx="576.95" cy="108.68" r="1.5"/>
<circle cx="573.88" cy="110.55" r="1.5"/>
<circle cx="577.32" cy="110.55" r="1.5"/>
<circle cx="572.08" cy="112.90" r="1.5"/>
<circle cx="575.65" cy="112.90" r="1.5"/>
<circle cx="572.19" cy="114.85" r="1.5"/>
<circle cx="577.27" cy="114.85" r="1.5"/>
<circle cx="574.70" cy="116.70" r="1.5"/>
<rect x="585.33" y="83.62" width="2.75" height="2.75"/>
<rect x="585.18" y="88.42" width="2.75" height="2.75"/>
<rect x="585.48" y="90.67" width="2.75" height="2.75"/>
<rect x="585.18" y="92.92" width="2.75" height="2.75"/>
<rect x="585.48" y="95.17" width="2.75" height="2.75"/>
<rect x="585.18" y="97.42" width="2.75" height="2.75"/>
<rect x="582.70" y="104.13" width="2.75" height="2.75"/>
<rect x="584.39" y="104.13" width="2.75" height="2.75"/>
<rect x="585.91" y="104.13" width="2.75" height="2.75"/>
<rect x="587.71" y="104.13" width="2.75" height="2.75"/>
<rect x="582.91" y="106.04" width="2.75" height="2.75"/>
<rect x="584.50" y="106.04" width="2.75" height="2.75"/>
<rect x="586.14" y="106.04" width="2.75" height="2.75"/>
<rect x="588.02" y="106.04" width="2.75" height="2.75"/>
<rect x="586.14" y="108.71" width="2.75" height="2.75"/>
<rect x="582.71" y="110.90" width="2.75" height="2.75"/>
<rect x="584.71" y="110.90" width="2.75" height="2.75"/>
<rect x="586.20" y="110.90" width="2.75" height="2.75"/>
<rect x="587.84" y="110.90" width="2.75" height="2.75"/>
<rect x="582.99" y="112.82" width="2.75" height="2.75"/>
<rect x="584.69" y="112.82" width="2.75" height="2.75"/>
<rect x="586.02" y="112.82" width="2.75" height="2.75"/>
<rect x="582.58" y="115.23" width="2.75" height="2.75"/>
<rect x="584.47" y="115.23" width="2.75" height="2.75"/>
<rect x="585.98" y="115.23" width="2.75" height="2.75"/>
<rect x="587.73" y="115.23" width="2.75" height="2.75"/>
</g>
<line x1="503.40" y1="35.75" x2="503.40" y2="53.40" stroke="#000" stroke-width="1.1"/>
<line x1="503.40" y1="60.30" x2="503.40" y2="127.95" stroke="#000" stroke-width="1.1"/>
<line x1="499.60" y1="36.30" x2="503.40" y2="36.30" stroke="#000" stroke-width="1.1"/>
<line x1="499.60" y1="45.00" x2="503.40" y2="45.00" stroke="#000" stroke-width="1.1"/>
<line x1="499.60" y1="82.70" x2="503.40" y2="82.70" stroke="#000" stroke-width="1.1"/>
<line x1="499.60" y1="105.00" x2="503.40" y2="105.00" stroke="#000" stroke-width="1.1"/>
<line x1="499.60" y1="127.40" x2="503.40" y2="127.40" stroke="#000" stroke-width="1.1"/>
<line x1="501.10" y1="53.40" x2="505.70" y2="53.40" stroke="#000" stroke-width="1.1"/>
<line x1="501.10" y1="60.30" x2="505.70" y2="60.30" stroke="#000" stroke-width="1.1"/>
<line x1="499.60" y1="127.40" x2="594.60" y2="127.40" stroke="#000" stroke-width="1.1"/>
<text x="498.20" y="38.76" font-size="6.88" font-weight="bold" text-anchor="end" fill="#000">70</text>
<text x="498.20" y="47.46" font-size="6.88" font-weight="bold" text-anchor="end" fill="#000">60</text>
<text x="498.20" y="55.86" font-size="6.88" font-weight="bold" text-anchor="end" fill="#000">50</text>
<text x="498.20" y="62.76" font-size="6.88" font-weight="bold" text-anchor="end" fill="#000">30</text>
<text x="498.20" y="85.16" font-size="6.88" font-weight="bold" text-anchor="end" fill="#000">20</text>
<text x="498.20" y="107.46" font-size="6.88" font-weight="bold" text-anchor="end" fill="#000">10</text>
<text x="498.20" y="129.86" font-size="6.88" font-weight="bold" text-anchor="end" fill="#000">0</text>
<line x1="517.00" y1="127.40" x2="517.00" y2="131.30" stroke="#000" stroke-width="1.1"/>
<text x="517.00" y="139.00" font-size="6.88" font-weight="bold" text-anchor="middle" fill="#000">P0-&gt;P1</text>
<line x1="548.80" y1="127.40" x2="548.80" y2="131.30" stroke="#000" stroke-width="1.1"/>
<text x="548.80" y="139.00" font-size="6.88" font-weight="bold" text-anchor="middle" fill="#000">P1-&gt;P2</text>
<line x1="580.50" y1="127.40" x2="580.50" y2="131.30" stroke="#000" stroke-width="1.1"/>
<text x="580.50" y="139.00" font-size="6.88" font-weight="bold" text-anchor="middle" fill="#000">P2-&gt;P3</text>
<text x="549.30" y="149.90" font-size="7.55" font-weight="bold" text-anchor="middle" fill="#000">Passages</text>
<text x="486.40" y="82.25" font-size="7.6" font-weight="bold" text-anchor="middle" fill="#000" transform="rotate(-90 486.40 82.25)">Proliferationtime in days</text>
<path d="M522.40 28.80V20.80H586.60V28.80" fill="none" stroke="#000" stroke-width="1.15"/>
<text x="554.50" y="16.70" font-size="7.4" font-weight="normal" text-anchor="middle" fill="#000">#</text>
<path d="M522.40 40.60V36.80H555.40V40.60" fill="none" stroke="#000" stroke-width="1.15"/>
<text x="538.90" y="32.20" font-size="7.7" font-weight="normal" text-anchor="middle" fill="#000">##</text>
<g fill="#000">
<rect x="618.70" y="45.50" width="3.0" height="3.0"/>
</g>
<text x="630.60" y="49.70" font-size="7.5" fill="#111" stroke="#111" stroke-width="0.15">BMI &lt; 25 kg/m²</text>
<g fill="#000">
<circle cx="620.20" cy="60.60" r="1.55"/>
</g>
<text x="630.60" y="62.90" font-size="7.5" fill="#111" stroke="#111" stroke-width="0.15">BMI ≥ 25 kg/m²</text>
<text x="0.5" y="187.2" font-size="20.1" font-weight="bold" fill="#222">D</text>
<rect x="54.80" y="270.80" width="6.90" height="30.80" fill="#fff" stroke="#000" stroke-width="1.6"/>
<rect x="66.60" y="264.50" width="7.20" height="37.10" fill="#b4b4b4" stroke="#000" stroke-width="1.6"/>
<rect x="86.80" y="274.90" width="7.10" height="26.70" fill="#fff" stroke="#000" stroke-width="1.6"/>
<rect x="98.70" y="284.30" width="7.20" height="17.30" fill="#b4b4b4" stroke="#000" stroke-width="1.6"/>
<rect x="118.90" y="276.60" width="7.10" height="25.00" fill="#fff" stroke="#000" stroke-width="1.6"/>
<rect x="131.40" y="282.40" width="7.20" height="19.20" fill="#b4b4b4" stroke="#000" stroke-width="1.6"/>
<line x1="58.25" y1="246.40" x2="58.25" y2="294.30" stroke="#000" stroke-width="0.75"/>
<line x1="56.25" y1="246.40" x2="60.25" y2="246.40" stroke="#000" stroke-width="0.75"/>
<line x1="56.25" y1="294.30" x2="60.25" y2="294.30" stroke="#000" stroke-width="0.75"/>
<line x1="70.20" y1="233.90" x2="70.20" y2="295.30" stroke="#000" stroke-width="0.75"/>
<line x1="68.20" y1="295.30" x2="72.20" y2="295.30" stroke="#000" stroke-width="0.75"/>
<line x1="90.35" y1="249.30" x2="90.35" y2="298.90" stroke="#000" stroke-width="0.75"/>
<line x1="88.35" y1="249.30" x2="92.35" y2="249.30" stroke="#000" stroke-width="0.75"/>
<line x1="88.35" y1="298.90" x2="92.35" y2="298.90" stroke="#000" stroke-width="0.75"/>
<line x1="102.30" y1="277.00" x2="102.30" y2="291.00" stroke="#000" stroke-width="0.75"/>
<line x1="100.30" y1="277.00" x2="104.30" y2="277.00" stroke="#000" stroke-width="0.75"/>
<line x1="100.30" y1="291.00" x2="104.30" y2="291.00" stroke="#000" stroke-width="0.75"/>
<line x1="122.45" y1="262.00" x2="122.45" y2="290.00" stroke="#000" stroke-width="0.75"/>
<line x1="120.45" y1="262.00" x2="124.45" y2="262.00" stroke="#000" stroke-width="0.75"/>
<line x1="120.45" y1="290.00" x2="124.45" y2="290.00" stroke="#000" stroke-width="0.75"/>
<line x1="135.00" y1="272.00" x2="135.00" y2="292.00" stroke="#000" stroke-width="0.75"/>
<line x1="133.00" y1="272.00" x2="137.00" y2="272.00" stroke="#000" stroke-width="0.75"/>
<line x1="133.00" y1="292.00" x2="137.00" y2="292.00" stroke="#000" stroke-width="0.75"/>
<g fill="#000">
<circle cx="58.25" cy="218.00" r="1.5"/>
<circle cx="58.25" cy="251.50" r="1.5"/>
<circle cx="58.25" cy="258.00" r="1.5"/>
<circle cx="58.55" cy="260.50" r="1.5"/>
<circle cx="58.05" cy="263.00" r="1.5"/>
<circle cx="57.65" cy="267.20" r="1.5"/>
<circle cx="58.85" cy="267.20" r="1.5"/>
<circle cx="55.73" cy="271.87" r="1.5"/>
<circle cx="59.35" cy="271.87" r="1.5"/>
<circle cx="61.10" cy="271.87" r="1.5"/>
<circle cx="55.55" cy="273.93" r="1.5"/>
<circle cx="59.06" cy="273.93" r="1.5"/>
<circle cx="60.79" cy="273.93" r="1.5"/>
<circle cx="55.77" cy="276.32" r="1.5"/>
<circle cx="57.58" cy="276.32" r="1.5"/>
<circle cx="59.02" cy="276.32" r="1.5"/>
<circle cx="60.74" cy="276.32" r="1.5"/>
<circle cx="61.11" cy="278.86" r="1.5"/>
<circle cx="55.71" cy="280.53" r="1.5"/>
<circle cx="57.48" cy="280.53" r="1.5"/>
<circle cx="59.26" cy="280.53" r="1.5"/>
<circle cx="60.79" cy="280.53" r="1.5"/>
<circle cx="57.35" cy="283.29" r="1.5"/>
<circle cx="59.03" cy="283.29" r="1.5"/>
<circle cx="55.68" cy="285.44" r="1.5"/>
<circle cx="57.40" cy="285.44" r="1.5"/>
<circle cx="58.97" cy="285.44" r="1.5"/>
<circle cx="60.75" cy="285.44" r="1.5"/>
<circle cx="58.25" cy="290.30" r="1.5"/>
<rect x="68.02" y="216.53" width="2.75" height="2.75"/>
<rect x="69.62" y="216.53" width="2.75" height="2.75"/>
<rect x="68.82" y="243.22" width="2.75" height="2.75"/>
<rect x="68.82" y="252.62" width="2.75" height="2.75"/>
<rect x="68.82" y="254.82" width="2.75" height="2.75"/>
<rect x="66.22" y="263.93" width="2.75" height="2.75"/>
<rect x="71.42" y="263.93" width="2.75" height="2.75"/>
<rect x="66.22" y="266.82" width="2.75" height="2.75"/>
<rect x="71.42" y="266.82" width="2.75" height="2.75"/>
<rect x="68.82" y="268.23" width="2.75" height="2.75"/>
<rect x="65.89" y="270.44" width="2.75" height="2.75"/>
<rect x="71.44" y="270.44" width="2.75" height="2.75"/>
<rect x="65.95" y="272.97" width="2.75" height="2.75"/>
<rect x="67.76" y="272.97" width="2.75" height="2.75"/>
<rect x="69.79" y="272.97" width="2.75" height="2.75"/>
<rect x="65.98" y="274.80" width="2.75" height="2.75"/>
<rect x="67.83" y="274.80" width="2.75" height="2.75"/>
<rect x="69.54" y="274.80" width="2.75" height="2.75"/>
<rect x="71.86" y="274.80" width="2.75" height="2.75"/>
<rect x="66.09" y="277.19" width="2.75" height="2.75"/>
<rect x="69.64" y="277.19" width="2.75" height="2.75"/>
<rect x="71.57" y="277.19" width="2.75" height="2.75"/>
<rect x="68.08" y="279.41" width="2.75" height="2.75"/>
<rect x="69.52" y="279.41" width="2.75" height="2.75"/>
<rect x="71.82" y="279.41" width="2.75" height="2.75"/>
<rect x="67.02" y="283.12" width="2.75" height="2.75"/>
<circle cx="90.35" cy="218.00" r="1.5"/>
<circle cx="90.35" cy="254.00" r="1.5"/>
<circle cx="89.95" cy="260.50" r="1.5"/>
<circle cx="90.75" cy="260.50" r="1.5"/>
<circle cx="89.65" cy="272.20" r="1.5"/>
<circle cx="91.05" cy="272.20" r="1.5"/>
<circle cx="87.35" cy="276.28" r="1.5"/>
<circle cx="89.65" cy="276.28" r="1.5"/>
<circle cx="87.40" cy="278.29" r="1.5"/>
<circle cx="89.44" cy="278.29" r="1.5"/>
<circle cx="91.49" cy="278.29" r="1.5"/>
<circle cx="89.46" cy="280.49" r="1.5"/>
<circle cx="91.41" cy="280.49" r="1.5"/>
<circle cx="93.31" cy="280.49" r="1.5"/>
<circle cx="87.41" cy="282.65" r="1.5"/>
<circle cx="89.50" cy="282.65" r="1.5"/>
<circle cx="91.07" cy="282.65" r="1.5"/>
<circle cx="93.11" cy="282.65" r="1.5"/>
<circle cx="87.46" cy="284.89" r="1.5"/>
<circle cx="89.19" cy="284.89" r="1.5"/>
<circle cx="91.25" cy="284.89" r="1.5"/>
<circle cx="90.35" cy="290.30" r="1.5"/>
<circle cx="90.35" cy="294.60" r="1.5"/>
<rect x="100.93" y="273.02" width="2.75" height="2.75"/>
<rect x="99.93" y="275.62" width="2.75" height="2.75"/>
<rect x="101.93" y="275.62" width="2.75" height="2.75"/>
<rect x="97.93" y="278.23" width="2.75" height="2.75"/>
<rect x="99.93" y="278.23" width="2.75" height="2.75"/>
<rect x="101.93" y="278.23" width="2.75" height="2.75"/>
<rect x="103.93" y="278.23" width="2.75" height="2.75"/>
<rect x="99.13" y="280.43" width="2.75" height="2.75"/>
<rect x="100.93" y="280.43" width="2.75" height="2.75"/>
<rect x="102.73" y="280.43" width="2.75" height="2.75"/>
<rect x="99.86" y="283.34" width="2.75" height="2.75"/>
<rect x="102.09" y="283.34" width="2.75" height="2.75"/>
<rect x="103.63" y="283.34" width="2.75" height="2.75"/>
<rect x="98.21" y="285.73" width="2.75" height="2.75"/>
<rect x="99.87" y="285.73" width="2.75" height="2.75"/>
<rect x="102.07" y="285.73" width="2.75" height="2.75"/>
<rect x="103.49" y="285.73" width="2.75" height="2.75"/>
<rect x="98.22" y="287.91" width="2.75" height="2.75"/>
<rect x="100.14" y="287.91" width="2.75" height="2.75"/>
<rect x="101.86" y="287.91" width="2.75" height="2.75"/>
<rect x="103.96" y="287.91" width="2.75" height="2.75"/>
<rect x="99.85" y="290.22" width="2.75" height="2.75"/>
<rect x="101.76" y="290.22" width="2.75" height="2.75"/>
<circle cx="122.45" cy="258.30" r="1.5"/>
<circle cx="122.45" cy="262.60" r="1.5"/>
<circle cx="122.45" cy="266.00" r="1.5"/>
<circle cx="121.75" cy="268.20" r="1.5"/>
<circle cx="123.15" cy="268.20" r="1.5"/>
<circle cx="121.55" cy="270.40" r="1.5"/>
<circle cx="123.35" cy="270.40" r="1.5"/>
<circle cx="121.35" cy="272.60" r="1.5"/>
<circle cx="123.55" cy="272.60" r="1.5"/>
<circle cx="120.75" cy="274.60" r="1.5"/>
<circle cx="122.45" cy="274.60" r="1.5"/>
<circle cx="124.15" cy="274.60" r="1.5"/>
<circle cx="119.56" cy="277.78" r="1.5"/>
<circle cx="121.62" cy="277.78" r="1.5"/>
<circle cx="123.19" cy="277.78" r="1.5"/>
<circle cx="125.06" cy="277.78" r="1.5"/>
<circle cx="119.48" cy="279.96" r="1.5"/>
<circle cx="121.48" cy="279.96" r="1.5"/>
<circle cx="123.56" cy="279.96" r="1.5"/>
<circle cx="125.45" cy="279.96" r="1.5"/>
<circle cx="119.65" cy="283.00" r="1.5"/>
<circle cx="122.45" cy="283.00" r="1.5"/>
<circle cx="125.25" cy="283.00" r="1.5"/>
<circle cx="119.54" cy="285.42" r="1.5"/>
<circle cx="123.13" cy="285.42" r="1.5"/>
<circle cx="125.14" cy="285.42" r="1.5"/>
<circle cx="119.53" cy="287.52" r="1.5"/>
<circle cx="121.42" cy="287.52" r="1.5"/>
<circle cx="123.59" cy="287.52" r="1.5"/>
<circle cx="125.43" cy="287.52" r="1.5"/>
<rect x="133.62" y="263.82" width="2.75" height="2.75"/>
<rect x="132.82" y="271.23" width="2.75" height="2.75"/>
<rect x="134.43" y="271.23" width="2.75" height="2.75"/>
<rect x="133.62" y="273.62" width="2.75" height="2.75"/>
<rect x="130.85" y="277.12" width="2.75" height="2.75"/>
<rect x="132.70" y="277.12" width="2.75" height="2.75"/>
<rect x="134.55" y="277.12" width="2.75" height="2.75"/>
<rect x="136.40" y="277.12" width="2.75" height="2.75"/>
<rect x="130.99" y="282.38" width="2.75" height="2.75"/>
<rect x="134.33" y="282.38" width="2.75" height="2.75"/>
<rect x="136.36" y="282.38" width="2.75" height="2.75"/>
<rect x="130.76" y="284.49" width="2.75" height="2.75"/>
<rect x="134.51" y="284.49" width="2.75" height="2.75"/>
<rect x="130.59" y="286.43" width="2.75" height="2.75"/>
<rect x="132.90" y="286.43" width="2.75" height="2.75"/>
<rect x="134.68" y="286.43" width="2.75" height="2.75"/>
<rect x="131.05" y="288.88" width="2.75" height="2.75"/>
<rect x="132.57" y="288.88" width="2.75" height="2.75"/>
<rect x="134.47" y="288.88" width="2.75" height="2.75"/>
<rect x="136.18" y="288.88" width="2.75" height="2.75"/>
</g>
<line x1="50.40" y1="208.75" x2="50.40" y2="226.50" stroke="#000" stroke-width="1.1"/>
<line x1="50.40" y1="233.60" x2="50.40" y2="302.15" stroke="#000" stroke-width="1.1"/>
<line x1="46.50" y1="209.30" x2="50.40" y2="209.30" stroke="#000" stroke-width="1.1"/>
<line x1="46.50" y1="217.80" x2="50.40" y2="217.80" stroke="#000" stroke-width="1.1"/>
<line x1="46.50" y1="256.30" x2="50.40" y2="256.30" stroke="#000" stroke-width="1.1"/>
<line x1="46.50" y1="278.90" x2="50.40" y2="278.90" stroke="#000" stroke-width="1.1"/>
<line x1="46.50" y1="301.60" x2="50.40" y2="301.60" stroke="#000" stroke-width="1.1"/>
<line x1="48.10" y1="226.50" x2="52.70" y2="226.50" stroke="#000" stroke-width="1.1"/>
<line x1="48.10" y1="233.60" x2="52.70" y2="233.60" stroke="#000" stroke-width="1.1"/>
<line x1="46.50" y1="301.60" x2="143.00" y2="301.60" stroke="#000" stroke-width="1.1"/>
<text x="45.40" y="211.82" font-size="7.04" font-weight="bold" text-anchor="end" fill="#000">70</text>
<text x="45.40" y="220.32" font-size="7.04" font-weight="bold" text-anchor="end" fill="#000">60</text>
<text x="45.40" y="229.02" font-size="7.04" font-weight="bold" text-anchor="end" fill="#000">50</text>
<text x="45.40" y="236.12" font-size="7.04" font-weight="bold" text-anchor="end" fill="#000">30</text>
<text x="45.40" y="258.82" font-size="7.04" font-weight="bold" text-anchor="end" fill="#000">20</text>
<text x="45.40" y="281.42" font-size="7.04" font-weight="bold" text-anchor="end" fill="#000">10</text>
<text x="45.40" y="304.12" font-size="7.04" font-weight="bold" text-anchor="end" fill="#000">0</text>
<line x1="64.30" y1="301.60" x2="64.30" y2="305.50" stroke="#000" stroke-width="1.1"/>
<text x="64.30" y="313.00" font-size="7.04" font-weight="bold" text-anchor="middle" fill="#000">P0-&gt;P1</text>
<line x1="96.30" y1="301.60" x2="96.30" y2="305.50" stroke="#000" stroke-width="1.1"/>
<text x="96.30" y="313.00" font-size="7.04" font-weight="bold" text-anchor="middle" fill="#000">P1-&gt;P2</text>
<line x1="128.50" y1="301.60" x2="128.50" y2="305.50" stroke="#000" stroke-width="1.1"/>
<text x="128.50" y="313.00" font-size="7.04" font-weight="bold" text-anchor="middle" fill="#000">P2-&gt;P3</text>
<text x="96.80" y="324.20" font-size="7.79" font-weight="bold" text-anchor="middle" fill="#000">Passages</text>
<text x="33.00" y="255.65" font-size="7.63" font-weight="bold" text-anchor="middle" fill="#000" transform="rotate(-90 33.00 255.65)">Proliferationtime in days</text>
<path d="M70.40 201.80V197.10H133.50V201.80" fill="none" stroke="#000" stroke-width="1.0"/>
<text x="101.95" y="192.60" font-size="8" font-weight="normal" text-anchor="middle" fill="#000">##</text>
<path d="M70.40 214.80V210.80H102.50V214.80" fill="none" stroke="#000" stroke-width="1.2"/>
<text x="86.45" y="206.20" font-size="8" font-weight="normal" text-anchor="middle" fill="#000">#</text>
<path d="M122.30 259.50V256.20H134.60V261.40" fill="none" stroke="#000" stroke-width="1.05"/>
<text x="128.70" y="254.70" font-size="9.2" font-weight="bold" font-family="DejaVu Sans, sans-serif" text-anchor="middle" fill="#000" stroke="#000" stroke-width="0.25">*</text>
<g fill="#000">
<circle cx="168.60" cy="215.40" r="1.55"/>
</g>
<text x="179.00" y="218.10" font-size="7.73" fill="#111" stroke="#111" stroke-width="0.15">Chemotherapy received</text>
<g fill="#000">
<rect x="167.10" y="225.90" width="3.0" height="3.0"/>
</g>
<text x="179.00" y="230.80" font-size="7.73" fill="#111" stroke="#111" stroke-width="0.15">Chemotherapy not received</text>
<text x="458.4" y="187.5" font-size="20.1" font-weight="bold" fill="#222">E</text>
<rect x="509.40" y="239.90" width="6.90" height="61.70" fill="#fff" stroke="#000" stroke-width="1.5"/>
<rect x="521.70" y="270.50" width="7.00" height="31.10" fill="#a9a9a9" stroke="#000" stroke-width="1.5"/>
<rect x="541.90" y="281.80" width="7.20" height="19.80" fill="#fff" stroke="#000" stroke-width="1.5"/>
<rect x="554.70" y="273.50" width="7.10" height="28.10" fill="#a9a9a9" stroke="#000" stroke-width="1.5"/>
<rect x="575.10" y="280.70" width="6.90" height="20.90" fill="#fff" stroke="#000" stroke-width="1.5"/>
<rect x="587.50" y="277.50" width="7.10" height="24.10" fill="#a9a9a9" stroke="#000" stroke-width="1.5"/>
<line x1="512.85" y1="231.80" x2="512.85" y2="289.50" stroke="#000" stroke-width="0.75"/>
<line x1="510.85" y1="289.50" x2="514.85" y2="289.50" stroke="#000" stroke-width="0.75"/>
<line x1="525.20" y1="255.00" x2="525.20" y2="289.00" stroke="#000" stroke-width="0.75"/>
<line x1="523.20" y1="255.00" x2="527.20" y2="255.00" stroke="#000" stroke-width="0.75"/>
<line x1="523.20" y1="289.00" x2="527.20" y2="289.00" stroke="#000" stroke-width="0.75"/>
<line x1="545.50" y1="270.40" x2="545.50" y2="292.00" stroke="#000" stroke-width="0.75"/>
<line x1="543.50" y1="270.40" x2="547.50" y2="270.40" stroke="#000" stroke-width="0.75"/>
<line x1="543.50" y1="292.00" x2="547.50" y2="292.00" stroke="#000" stroke-width="0.75"/>
<line x1="558.25" y1="256.50" x2="558.25" y2="296.00" stroke="#000" stroke-width="0.75"/>
<line x1="556.25" y1="256.50" x2="560.25" y2="256.50" stroke="#000" stroke-width="0.75"/>
<line x1="556.25" y1="296.00" x2="560.25" y2="296.00" stroke="#000" stroke-width="0.75"/>
<line x1="578.55" y1="268.60" x2="578.55" y2="291.50" stroke="#000" stroke-width="0.75"/>
<line x1="576.55" y1="268.60" x2="580.55" y2="268.60" stroke="#000" stroke-width="0.75"/>
<line x1="576.55" y1="291.50" x2="580.55" y2="291.50" stroke="#000" stroke-width="0.75"/>
<line x1="591.05" y1="265.00" x2="591.05" y2="289.00" stroke="#000" stroke-width="0.75"/>
<line x1="589.05" y1="265.00" x2="593.05" y2="265.00" stroke="#000" stroke-width="0.75"/>
<line x1="589.05" y1="289.00" x2="593.05" y2="289.00" stroke="#000" stroke-width="0.75"/>
<g fill="#000">
<circle cx="510.05" cy="215.40" r="1.5"/>
<circle cx="512.85" cy="215.40" r="1.5"/>
<circle cx="515.65" cy="215.40" r="1.5"/>
<circle cx="512.85" cy="249.80" r="1.5"/>
<circle cx="512.85" cy="256.50" r="1.5"/>
<circle cx="510.55" cy="268.80" r="1.5"/>
<circle cx="515.25" cy="268.80" r="1.5"/>
<circle cx="512.85" cy="271.30" r="1.5"/>
<circle cx="510.65" cy="274.80" r="1.5"/>
<circle cx="512.85" cy="274.80" r="1.5"/>
<circle cx="515.05" cy="274.80" r="1.5"/>
<circle cx="512.85" cy="280.20" r="1.5"/>
<rect x="523.83" y="241.62" width="2.75" height="2.75"/>
<rect x="523.68" y="250.12" width="2.75" height="2.75"/>
<rect x="523.98" y="252.28" width="2.75" height="2.75"/>
<rect x="523.68" y="254.43" width="2.75" height="2.75"/>
<rect x="523.98" y="256.57" width="2.75" height="2.75"/>
<rect x="523.68" y="258.72" width="2.75" height="2.75"/>
<rect x="523.98" y="260.87" width="2.75" height="2.75"/>
<rect x="523.68" y="263.02" width="2.75" height="2.75"/>
<rect x="523.03" y="266.93" width="2.75" height="2.75"/>
<rect x="524.62" y="266.93" width="2.75" height="2.75"/>
<rect x="521.19" y="269.16" width="2.75" height="2.75"/>
<rect x="522.69" y="269.16" width="2.75" height="2.75"/>
<rect x="524.71" y="269.16" width="2.75" height="2.75"/>
<rect x="526.75" y="269.16" width="2.75" height="2.75"/>
<rect x="521.09" y="271.59" width="2.75" height="2.75"/>
<rect x="523.14" y="271.59" width="2.75" height="2.75"/>
<rect x="524.88" y="271.59" width="2.75" height="2.75"/>
<rect x="526.69" y="271.59" width="2.75" height="2.75"/>
<rect x="521.04" y="273.47" width="2.75" height="2.75"/>
<rect x="522.86" y="273.47" width="2.75" height="2.75"/>
<rect x="524.51" y="273.47" width="2.75" height="2.75"/>
<rect x="526.65" y="273.47" width="2.75" height="2.75"/>
<rect x="520.89" y="275.68" width="2.75" height="2.75"/>
<rect x="522.84" y="275.68" width="2.75" height="2.75"/>
<rect x="526.77" y="275.68" width="2.75" height="2.75"/>
<rect x="520.92" y="278.13" width="2.75" height="2.75"/>
<rect x="523.03" y="278.13" width="2.75" height="2.75"/>
<rect x="524.59" y="278.13" width="2.75" height="2.75"/>
<rect x="526.59" y="278.13" width="2.75" height="2.75"/>
<rect x="521.30" y="280.37" width="2.75" height="2.75"/>
<rect x="522.74" y="280.37" width="2.75" height="2.75"/>
<rect x="524.62" y="280.37" width="2.75" height="2.75"/>
<rect x="526.46" y="280.37" width="2.75" height="2.75"/>
<rect x="521.00" y="282.72" width="2.75" height="2.75"/>
<rect x="522.75" y="282.72" width="2.75" height="2.75"/>
<rect x="524.76" y="282.72" width="2.75" height="2.75"/>
<rect x="526.47" y="282.72" width="2.75" height="2.75"/>
<rect x="520.99" y="284.82" width="2.75" height="2.75"/>
<rect x="523.00" y="284.82" width="2.75" height="2.75"/>
<rect x="526.51" y="284.82" width="2.75" height="2.75"/>
<rect x="521.33" y="286.87" width="2.75" height="2.75"/>
<rect x="522.82" y="286.87" width="2.75" height="2.75"/>
<rect x="524.57" y="286.87" width="2.75" height="2.75"/>
<circle cx="545.50" cy="259.40" r="1.5"/>
<circle cx="545.50" cy="275.60" r="1.5"/>
<circle cx="543.90" cy="280.00" r="1.5"/>
<circle cx="543.20" cy="284.10" r="1.5"/>
<circle cx="545.50" cy="284.10" r="1.5"/>
<circle cx="547.80" cy="284.10" r="1.5"/>
<circle cx="545.50" cy="291.00" r="1.5"/>
<rect x="556.88" y="214.03" width="2.75" height="2.75"/>
<rect x="556.88" y="251.03" width="2.75" height="2.75"/>
<rect x="556.88" y="258.02" width="2.75" height="2.75"/>
<rect x="556.27" y="269.23" width="2.75" height="2.75"/>
<rect x="557.48" y="269.23" width="2.75" height="2.75"/>
<rect x="555.27" y="271.43" width="2.75" height="2.75"/>
<rect x="556.88" y="271.43" width="2.75" height="2.75"/>
<rect x="558.48" y="271.43" width="2.75" height="2.75"/>
<rect x="554.06" y="273.68" width="2.75" height="2.75"/>
<rect x="555.93" y="273.68" width="2.75" height="2.75"/>
<rect x="557.93" y="273.68" width="2.75" height="2.75"/>
<rect x="559.43" y="273.68" width="2.75" height="2.75"/>
<rect x="553.98" y="275.65" width="2.75" height="2.75"/>
<rect x="555.78" y="275.65" width="2.75" height="2.75"/>
<rect x="557.67" y="275.65" width="2.75" height="2.75"/>
<rect x="559.70" y="275.65" width="2.75" height="2.75"/>
<rect x="554.04" y="277.76" width="2.75" height="2.75"/>
<rect x="555.80" y="277.76" width="2.75" height="2.75"/>
<rect x="557.64" y="277.76" width="2.75" height="2.75"/>
<rect x="559.65" y="277.76" width="2.75" height="2.75"/>
<rect x="554.07" y="280.09" width="2.75" height="2.75"/>
<rect x="556.03" y="280.09" width="2.75" height="2.75"/>
<rect x="557.62" y="280.09" width="2.75" height="2.75"/>
<rect x="559.58" y="280.09" width="2.75" height="2.75"/>
<rect x="554.35" y="282.34" width="2.75" height="2.75"/>
<rect x="555.99" y="282.34" width="2.75" height="2.75"/>
<rect x="557.75" y="282.34" width="2.75" height="2.75"/>
<rect x="559.87" y="282.34" width="2.75" height="2.75"/>
<rect x="554.24" y="284.85" width="2.75" height="2.75"/>
<rect x="555.71" y="284.85" width="2.75" height="2.75"/>
<rect x="557.75" y="284.85" width="2.75" height="2.75"/>
<rect x="559.58" y="284.85" width="2.75" height="2.75"/>
<rect x="553.96" y="286.75" width="2.75" height="2.75"/>
<rect x="555.98" y="286.75" width="2.75" height="2.75"/>
<rect x="558.00" y="286.75" width="2.75" height="2.75"/>
<rect x="559.69" y="286.75" width="2.75" height="2.75"/>
<rect x="556.08" y="292.73" width="2.75" height="2.75"/>
<rect x="557.67" y="292.73" width="2.75" height="2.75"/>
<rect x="556.08" y="296.43" width="2.75" height="2.75"/>
<rect x="557.67" y="296.43" width="2.75" height="2.75"/>
<circle cx="578.55" cy="261.50" r="1.5"/>
<circle cx="577.65" cy="270.00" r="1.5"/>
<circle cx="579.45" cy="270.00" r="1.5"/>
<circle cx="578.55" cy="277.70" r="1.5"/>
<circle cx="576.75" cy="286.70" r="1.5"/>
<circle cx="579.95" cy="287.20" r="1.5"/>
<circle cx="576.35" cy="291.00" r="1.5"/>
<circle cx="580.95" cy="289.60" r="1.5"/>
<rect x="589.67" y="255.32" width="2.75" height="2.75"/>
<rect x="589.67" y="261.62" width="2.75" height="2.75"/>
<rect x="589.67" y="263.82" width="2.75" height="2.75"/>
<rect x="589.88" y="266.02" width="2.75" height="2.75"/>
<rect x="589.27" y="268.23" width="2.75" height="2.75"/>
<rect x="590.07" y="268.23" width="2.75" height="2.75"/>
<rect x="589.07" y="270.43" width="2.75" height="2.75"/>
<rect x="590.27" y="270.43" width="2.75" height="2.75"/>
<rect x="588.72" y="272.62" width="2.75" height="2.75"/>
<rect x="590.62" y="272.62" width="2.75" height="2.75"/>
<rect x="586.75" y="275.91" width="2.75" height="2.75"/>
<rect x="588.77" y="275.91" width="2.75" height="2.75"/>
<rect x="590.40" y="275.91" width="2.75" height="2.75"/>
<rect x="592.58" y="275.91" width="2.75" height="2.75"/>
<rect x="586.74" y="278.07" width="2.75" height="2.75"/>
<rect x="589.00" y="278.07" width="2.75" height="2.75"/>
<rect x="590.37" y="278.07" width="2.75" height="2.75"/>
<rect x="592.37" y="278.07" width="2.75" height="2.75"/>
<rect x="587.09" y="279.83" width="2.75" height="2.75"/>
<rect x="588.90" y="279.83" width="2.75" height="2.75"/>
<rect x="590.54" y="279.83" width="2.75" height="2.75"/>
<rect x="592.59" y="279.83" width="2.75" height="2.75"/>
<rect x="586.87" y="281.95" width="2.75" height="2.75"/>
<rect x="588.70" y="281.95" width="2.75" height="2.75"/>
<rect x="590.47" y="281.95" width="2.75" height="2.75"/>
<rect x="592.62" y="281.95" width="2.75" height="2.75"/>
<rect x="587.05" y="284.31" width="2.75" height="2.75"/>
<rect x="588.93" y="284.31" width="2.75" height="2.75"/>
<rect x="590.64" y="284.31" width="2.75" height="2.75"/>
<rect x="592.49" y="284.31" width="2.75" height="2.75"/>
<rect x="586.97" y="286.62" width="2.75" height="2.75"/>
<rect x="588.84" y="286.62" width="2.75" height="2.75"/>
<rect x="590.56" y="286.62" width="2.75" height="2.75"/>
<rect x="592.48" y="286.62" width="2.75" height="2.75"/>
<rect x="592.27" y="289.23" width="2.75" height="2.75"/>
</g>
<line x1="504.50" y1="205.75" x2="504.50" y2="224.30" stroke="#000" stroke-width="1.1"/>
<line x1="504.50" y1="231.50" x2="504.50" y2="302.15" stroke="#000" stroke-width="1.1"/>
<line x1="500.60" y1="206.30" x2="504.50" y2="206.30" stroke="#000" stroke-width="1.1"/>
<line x1="500.60" y1="215.40" x2="504.50" y2="215.40" stroke="#000" stroke-width="1.1"/>
<line x1="500.60" y1="254.80" x2="504.50" y2="254.80" stroke="#000" stroke-width="1.1"/>
<line x1="500.60" y1="278.10" x2="504.50" y2="278.10" stroke="#000" stroke-width="1.1"/>
<line x1="500.60" y1="301.60" x2="504.50" y2="301.60" stroke="#000" stroke-width="1.1"/>
<line x1="502.20" y1="224.30" x2="506.80" y2="224.30" stroke="#000" stroke-width="1.1"/>
<line x1="502.20" y1="231.50" x2="506.80" y2="231.50" stroke="#000" stroke-width="1.1"/>
<line x1="500.60" y1="301.60" x2="600.00" y2="301.60" stroke="#000" stroke-width="1.1"/>
<text x="499.20" y="208.87" font-size="7.19" font-weight="bold" text-anchor="end" fill="#000">70</text>
<text x="499.20" y="217.97" font-size="7.19" font-weight="bold" text-anchor="end" fill="#000">60</text>
<text x="499.20" y="226.87" font-size="7.19" font-weight="bold" text-anchor="end" fill="#000">50</text>
<text x="499.20" y="234.07" font-size="7.19" font-weight="bold" text-anchor="end" fill="#000">30</text>
<text x="499.20" y="257.37" font-size="7.19" font-weight="bold" text-anchor="end" fill="#000">20</text>
<text x="499.20" y="280.67" font-size="7.19" font-weight="bold" text-anchor="end" fill="#000">10</text>
<text x="499.20" y="304.17" font-size="7.19" font-weight="bold" text-anchor="end" fill="#000">0</text>
<line x1="518.40" y1="301.60" x2="518.40" y2="305.50" stroke="#000" stroke-width="1.1"/>
<text x="518.40" y="313.00" font-size="7.19" font-weight="bold" text-anchor="middle" fill="#000">P0-&gt;P1</text>
<line x1="551.40" y1="301.60" x2="551.40" y2="305.50" stroke="#000" stroke-width="1.1"/>
<text x="551.40" y="313.00" font-size="7.19" font-weight="bold" text-anchor="middle" fill="#000">P1-&gt;P2</text>
<line x1="584.40" y1="301.60" x2="584.40" y2="305.50" stroke="#000" stroke-width="1.1"/>
<text x="584.40" y="313.00" font-size="7.19" font-weight="bold" text-anchor="middle" fill="#000">P2-&gt;P3</text>
<text x="551.90" y="324.00" font-size="7.99" font-weight="bold" text-anchor="middle" fill="#000">Passages</text>
<text x="487.10" y="254.35" font-size="7.87" font-weight="bold" text-anchor="middle" fill="#000" transform="rotate(-90 487.10 254.35)">Proliferationtime in days</text>
<path d="M513.40 195.60V190.70H579.40V195.60" fill="none" stroke="#000" stroke-width="1.15"/>
<text x="546.40" y="186.00" font-size="8.3" font-weight="normal" text-anchor="middle" fill="#000">#</text>
<path d="M512.30 209.80V204.10H524.80V209.80" fill="none" stroke="#000" stroke-width="0.9"/>
<text x="518.65" y="202.70" font-size="9.6" font-weight="bold" font-family="DejaVu Sans, sans-serif" text-anchor="middle" fill="#000" stroke="#000" stroke-width="0.25">*</text>
<g fill="#000">
<circle cx="625.80" cy="212.60" r="1.55"/>
</g>
<text x="636.60" y="215.10" font-size="7.87" fill="#111" stroke="#111" stroke-width="0.15">irradiated</text>
<g fill="#000">
<rect x="624.30" y="224.20" width="3.0" height="3.0"/>
</g>
<text x="636.60" y="228.40" font-size="7.87" fill="#111" stroke="#111" stroke-width="0.15">non-irradiated</text>
</svg>
</body></html>
